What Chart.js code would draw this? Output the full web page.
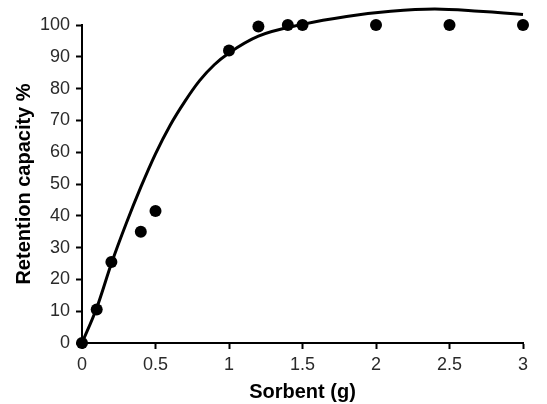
<!DOCTYPE html>
<html>
<head>
<meta charset="utf-8">
<script src="https://cdn.jsdelivr.net/npm/chart.js@4"></script>
<style>
  html, body { margin: 0; padding: 0; background: #fff; }
  #wrap { width: 547px; height: 404px; }
</style>
</head>
<body>
<div id="wrap"><canvas id="chart" width="547" height="404"></canvas></div>
<script>
// measured points
const sorbentX = [0, 0.1, 0.2, 0.4, 0.5, 1, 1.2, 1.4, 1.5, 2, 2.5, 3];
const retentionY = [0, 10.5, 25.5, 35, 41.5, 92, 99.5, 100, 100, 100, 100, 100];

// fitted curve
const curveX = [0, 0.1, 0.2, 0.3, 0.4, 0.5, 0.6, 0.7, 0.8, 0.9, 1.0, 1.2, 1.5, 1.8, 2.1, 2.4, 2.7, 3.0, 3.16];
const curveY = [0, 11, 25, 37.5, 49, 59.5, 68.5, 76, 82.5, 87.5, 91.2, 96.5, 100.2, 102.7, 104.3, 105, 104.3, 103.3, 102.5];

const xTicks = [0, 0.5, 1, 1.5, 2, 2.5, 3];
const yTicks = [0, 10, 20, 30, 40, 50, 60, 70, 80, 90, 100];

const tickFont = { family: "'Liberation Sans', Arial, sans-serif", size: 18 };
const titleFont = { family: "'Liberation Sans', Arial, sans-serif", size: 20, weight: "bold" };

new Chart(document.getElementById("chart"), {
  type: "scatter",
  data: {
    datasets: [
      {
        label: "fit",
        data: curveX.map((x, i) => ({ x: x, y: curveY[i] })),
        showLine: true,
        borderColor: "#000",
        borderWidth: 3,
        pointRadius: 0,
        cubicInterpolationMode: "monotone",
        clip: false,
        order: 2,
      },
      {
        label: "measured",
        data: sorbentX.map((x, i) => ({ x: x, y: retentionY[i] })),
        backgroundColor: "#000",
        borderColor: "#000",
        pointRadius: 6,
        borderWidth: 0,
        clip: false,
        order: 1,
      },
    ],
  },
  options: {
    responsive: false,
    animation: false,
    layout: { padding: { top: 25, right: 24, left: 0, bottom: 0 } },
    plugins: { legend: { display: false }, tooltip: { enabled: false } },
    scales: {
      x: {
        type: "linear",
        min: 0,
        max: 3,
        afterBuildTicks: (s) => { s.ticks = xTicks.map((v) => ({ value: v })); },
        afterFit: (s) => { s.height = 61; },
        ticks: { font: tickFont, color: "#2a2a2a", padding: 5, maxRotation: 0, callback: (v) => String(v) },
        grid: { drawOnChartArea: false, drawTicks: true, tickLength: 6, tickWidth: 2, tickColor: "#000" },
        border: { display: true, color: "#000", width: 2 },
        title: { display: true, text: "Sorbent (g)", font: titleFont, color: "#000", padding: { top: 0, bottom: 0 } },
      },
      y: {
        min: 0,
        max: 100,
        afterBuildTicks: (s) => { s.ticks = yTicks.map((v) => ({ value: v })); },
        afterFit: (s) => { s.width = 82; },
        ticks: { font: tickFont, color: "#2a2a2a", padding: 6, callback: (v) => String(v) },
        grid: { drawOnChartArea: false, drawTicks: true, tickLength: 6, tickWidth: 2, tickColor: "#000" },
        border: { display: true, color: "#000", width: 2 },
        title: { display: true, text: "Retention capacity %", font: titleFont, color: "#000", padding: { top: 12, bottom: 0 } },
      },
    },
  },
});
</script>
</body>
</html>
